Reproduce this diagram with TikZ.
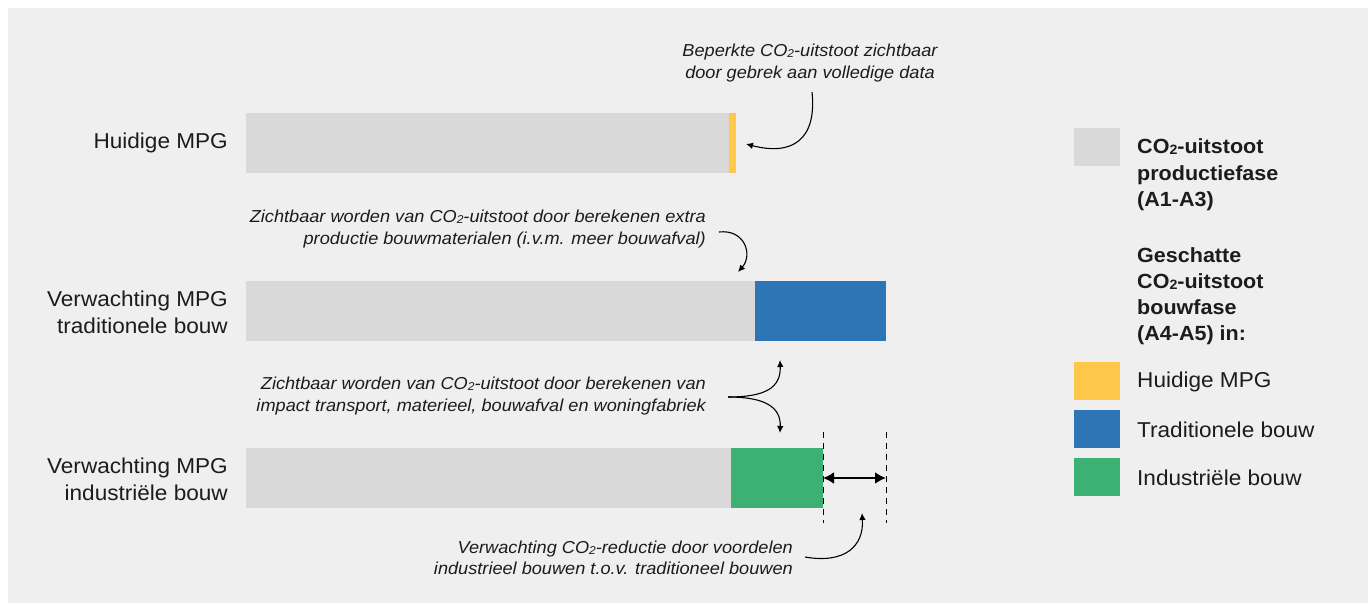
\documentclass[tikz,border=0pt]{standalone}
\usepackage{fontspec}
\setmainfont[FakeStretch=1.05]{Liberation Sans}
\usetikzlibrary{arrows.meta}
\definecolor{bg}{HTML}{EFEFEF}
\definecolor{barg}{HTML}{D9D9D9}
\definecolor{yel}{HTML}{FFC84B}
\definecolor{blu}{HTML}{2E75B6}
\definecolor{grn}{HTML}{3DB174}
\definecolor{ink}{HTML}{1C1C1C}
\newcommand\cotwo{CO\raisebox{-0.05em}{\scalebox{0.66}{2}}}
\begin{document}
\begin{tikzpicture}[x=1pt,y=-1pt,
  bar/.style={draw=none,inner sep=0,anchor=north west,minimum height=60},
  swatch/.style={draw=none,inner sep=0,minimum width=46,minimum height=38},
  lbl/.style={text=ink,inner sep=0,align=right,anchor=east,font=\fontsize{21.5}{27}\selectfont},
  leg/.style={text=ink,inner sep=0,align=left,anchor=west,font=\fontsize{21.5}{26.5}\selectfont},
  note/.style={text=ink,inner sep=0,font=\fontsize{17.3}{21.5}\selectfont\itshape},
  arr/.style={draw=black,line width=1.1pt,-{Latex[length=7pt,width=6.5pt]}},
  dbl/.style={draw=black,line width=2.2pt,{Latex[length=11pt,width=12pt]}-{Latex[length=11pt,width=12pt]}},
  guide/.style={draw=black,line width=1pt,dash pattern=on 6pt off 5pt}]
\useasboundingbox (0,0) rectangle (1368,603);
\fill[bg] (8,8) rectangle (1368,603);

% bars
\node[bar,fill=barg,minimum width=483] (g1) at (246,113) {};
\node[bar,fill=yel,minimum width=7] (y1) at (729,113) {};
\node[bar,fill=barg,minimum width=509] (g2) at (246,281) {};
\node[bar,fill=blu,minimum width=131] (b2) at (755,281) {};
\node[bar,fill=barg,minimum width=485] (g3) at (246,448) {};
\node[bar,fill=grn,minimum width=92] (c3) at (731,448) {};

% row labels
\node[lbl] (l1) at (228,143) {Huidige MPG};
\node[lbl] (l2) at (228,312) {Verwachting MPG\\traditionele bouw};
\node[lbl] (l3) at (228,479) {Verwachting MPG\\industriële bouw};

% notes
\node[note,align=center] (n1) at (810,63) {Beperkte \cotwo-uitstoot zichtbaar\\door gebrek aan volledige data};
\node[note,align=right,anchor=east] (n2) at (706,229) {Zichtbaar worden van \cotwo-uitstoot door berekenen extra\\productie bouwmaterialen (i.v.m. meer bouwafval)};
\node[note,align=right,anchor=east] (n3) at (706,396) {Zichtbaar worden van \cotwo-uitstoot door berekenen van\\impact transport, materieel, bouwafval en woningfabriek};
\node[note,align=right,anchor=east] (n4) at (793,558) {Verwachting \cotwo-reductie door voordelen\\industrieel bouwen t.o.v. traditioneel bouwen};

% connector points
\coordinate (s1) at (812,92);
\coordinate (t1) at (746,144);
\coordinate (s2) at (719,232);
\coordinate (t2) at (738,272);
\coordinate (s3) at (728,397);
\coordinate (t3a) at (780,360);
\coordinate (t3b) at (780,433);
\coordinate (s4) at (805,557);
\coordinate (t4) at (862,513);
\coordinate (d1a) at (823,432);
\coordinate (d1b) at (823,523);
\coordinate (d2a) at (886,432);
\coordinate (d2b) at (886,523);
\coordinate (m1) at (823,478);
\coordinate (m2) at (886,478);

\draw[arr] (s1) .. controls (817,140) and (792,156) .. (t1);
\draw[arr] (s2) .. controls (745,229) and (753,255) .. (t2);
\draw[arr] (s3) .. controls (765,397) and (781,388) .. (t3a);
\draw[arr] (s3) .. controls (765,397) and (781,407) .. (t3b);
\draw[arr] (s4) .. controls (845,564) and (864,546) .. (t4);
\draw[guide] (d1a) -- (d1b);
\draw[guide] (d2a) -- (d2b);
\draw[dbl] (m1) -- (m2);

% legend
\node[swatch,fill=barg] (k1) at (1097,147) {};
\node[leg,font=\fontsize{20.5}{26.5}\selectfont\bfseries] (e1) at (1137,175) {\cotwo-uitstoot\\productiefase\\(A1-A3)};
\node[leg,font=\fontsize{20.5}{26}\selectfont\bfseries] (e2) at (1137,296) {Geschatte\\\cotwo-uitstoot\\bouwfase\\(A4-A5) in:};
\node[swatch,fill=yel] (k2) at (1097,381) {};
\node[leg] (e3) at (1137,382) {Huidige MPG};
\node[swatch,fill=blu] (k3) at (1097,429) {};
\node[leg] (e4) at (1137,430) {Traditionele bouw};
\node[swatch,fill=grn] (k4) at (1097,477) {};
\node[leg] (e5) at (1137,478) {Industriële bouw};
\end{tikzpicture}
\end{document}
